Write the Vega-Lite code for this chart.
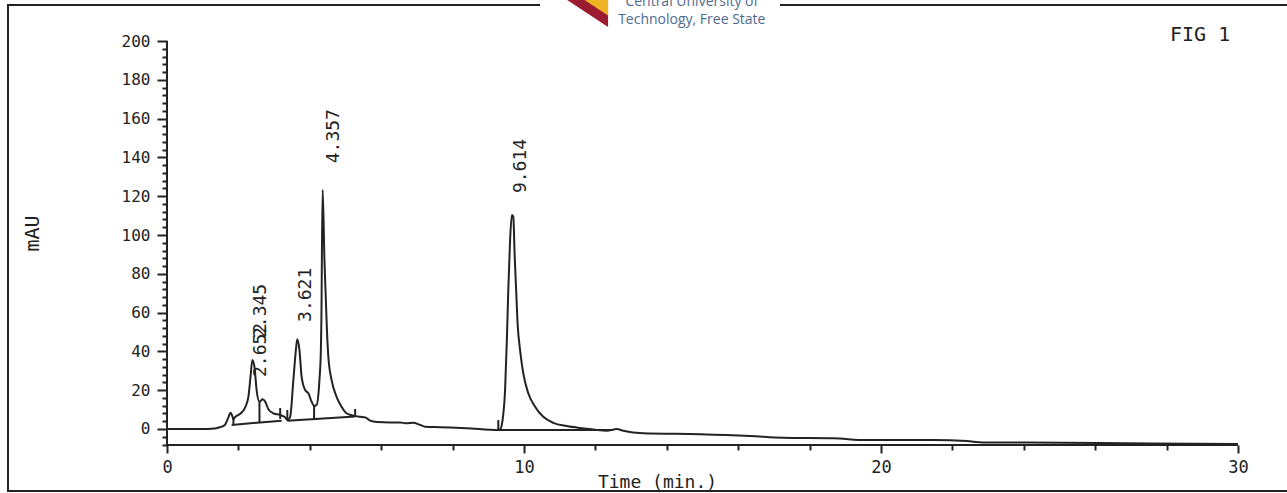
{
  "$schema": "https://vega.github.io/schema/vega-lite/v6.json",
  "autosize": {"type": "none"},
  "padding": {"left": 8, "top": 5, "right": -3, "bottom": 2},
  "width": 1282,
  "height": 486,
  "background": "white",
  "config": {
    "view": {"stroke": "#222", "strokeWidth": 2},
    "font": "DejaVu Sans Mono",
    "axis": {"labelOverlap": false, "labelBound": false, "labelFlush": false}
  },
  "datasets": {
    "signal": [
      {"t": 0, "mAU": 0}, {"t": 0.92, "mAU": 0}, {"t": 1.34, "mAU": 0.3}, {"t": 1.48, "mAU": 0.9},
      {"t": 1.62, "mAU": 2.1}, {"t": 1.72, "mAU": 6.0}, {"t": 1.78, "mAU": 8.4}, {"t": 1.83, "mAU": 6.7},
      {"t": 1.86, "mAU": 5.0}, {"t": 1.9, "mAU": 6.0}, {"t": 2.04, "mAU": 7.7}, {"t": 2.18, "mAU": 10.8},
      {"t": 2.28, "mAU": 16.6}, {"t": 2.34, "mAU": 27.0}, {"t": 2.39, "mAU": 35.6}, {"t": 2.45, "mAU": 32.1},
      {"t": 2.51, "mAU": 20.1}, {"t": 2.59, "mAU": 14.1}, {"t": 2.68, "mAU": 15.3}, {"t": 2.75, "mAU": 14.1},
      {"t": 2.84, "mAU": 10.2}, {"t": 2.98, "mAU": 8.1}, {"t": 3.17, "mAU": 7.2}, {"t": 3.31, "mAU": 6.0},
      {"t": 3.37, "mAU": 4.6}, {"t": 3.45, "mAU": 6.3}, {"t": 3.54, "mAU": 25.3}, {"t": 3.61, "mAU": 40.7},
      {"t": 3.65, "mAU": 46.2}, {"t": 3.71, "mAU": 40.7}, {"t": 3.77, "mAU": 27.0}, {"t": 3.87, "mAU": 20.1},
      {"t": 3.96, "mAU": 18.4}, {"t": 4.05, "mAU": 14.1}, {"t": 4.12, "mAU": 11.9}, {"t": 4.19, "mAU": 12.4},
      {"t": 4.27, "mAU": 25.3}, {"t": 4.31, "mAU": 40.7}, {"t": 4.33, "mAU": 66.5}, {"t": 4.34, "mAU": 92.3},
      {"t": 4.36, "mAU": 123.2}, {"t": 4.41, "mAU": 87.1}, {"t": 4.45, "mAU": 66.5}, {"t": 4.48, "mAU": 51.0},
      {"t": 4.52, "mAU": 37.1}, {"t": 4.61, "mAU": 25.3}, {"t": 4.75, "mAU": 16.6}, {"t": 4.89, "mAU": 11.5},
      {"t": 5.03, "mAU": 8.1}, {"t": 5.22, "mAU": 6.9}, {"t": 5.41, "mAU": 6.3}, {"t": 5.55, "mAU": 6.0},
      {"t": 5.69, "mAU": 4.3}, {"t": 5.88, "mAU": 3.6}, {"t": 6.25, "mAU": 3.4}, {"t": 6.53, "mAU": 3.4},
      {"t": 6.71, "mAU": 2.9}, {"t": 6.9, "mAU": 3.2}, {"t": 7.09, "mAU": 2.1}, {"t": 7.23, "mAU": 1.2},
      {"t": 7.65, "mAU": 0.9}, {"t": 8.39, "mAU": 0.4}, {"t": 9.28, "mAU": -0.5}, {"t": 9.33, "mAU": -0.2},
      {"t": 9.4, "mAU": 4.6}, {"t": 9.47, "mAU": 20.1}, {"t": 9.52, "mAU": 45.9}, {"t": 9.56, "mAU": 71.6},
      {"t": 9.61, "mAU": 97.4}, {"t": 9.66, "mAU": 110.3}, {"t": 9.7, "mAU": 109.4}, {"t": 9.74, "mAU": 88.8},
      {"t": 9.78, "mAU": 71.6}, {"t": 9.82, "mAU": 54.5}, {"t": 9.89, "mAU": 40.7}, {"t": 9.98, "mAU": 28.7},
      {"t": 10.12, "mAU": 18.4}, {"t": 10.31, "mAU": 11.5}, {"t": 10.54, "mAU": 6.3}, {"t": 10.82, "mAU": 3.2},
      {"t": 11.2, "mAU": 1.5}, {"t": 11.57, "mAU": 0.5}, {"t": 11.94, "mAU": -0.2}, {"t": 12.32, "mAU": -0.9},
      {"t": 12.6, "mAU": 0}, {"t": 12.78, "mAU": -0.9}, {"t": 13.34, "mAU": -2.2}, {"t": 14.93, "mAU": -2.7},
      {"t": 16.33, "mAU": -3.6}, {"t": 17.26, "mAU": -4.5}, {"t": 18.66, "mAU": -4.8}, {"t": 19.6, "mAU": -5.7},
      {"t": 21.46, "mAU": -5.7}, {"t": 22.4, "mAU": -6.2}, {"t": 22.87, "mAU": -6.9}, {"t": 23.33, "mAU": -6.9},
      {"t": 26.13, "mAU": -7.2}, {"t": 27.54, "mAU": -7.5}, {"t": 30.0, "mAU": -7.7}
    ],
    "segments": [
      {"t": 0, "mAU": -8.25, "t2": 30, "mAU2": -8.25},
      {"t": 0, "mAU": -8.25, "t2": 0, "mAU2": 200},
      {"t": 1.81, "mAU": 2.1, "t2": 3.21, "mAU2": 4.3},
      {"t": 3.37, "mAU": 4.3, "t2": 5.27, "mAU2": 6.5},
      {"t": 9.28, "mAU": -0.5, "t2": 12.5, "mAU2": -0.5},
      {"t": 2.59, "mAU": 3.2, "t2": 2.59, "mAU2": 14.1},
      {"t": 4.12, "mAU": 5.0, "t2": 4.12, "mAU2": 11.9},
      {"t": 0, "mAU": 0, "t2": 0, "mAU2": 5.7},
      {"t": 1.86, "mAU": 2.1, "t2": 1.86, "mAU2": 6.2},
      {"t": 3.17, "mAU": 5.2, "t2": 3.17, "mAU2": 10.8},
      {"t": 3.37, "mAU": 4.6, "t2": 3.37, "mAU2": 9.8},
      {"t": 5.27, "mAU": 6.2, "t2": 5.27, "mAU2": 10.3},
      {"t": 9.28, "mAU": -0.5, "t2": 9.28, "mAU2": 4.6}
    ],
    "peaks": [
      {"label": "2.652", "t": 2.38, "mAU": 26.8},
      {"label": "2.345", "t": 2.38, "mAU": 46.9},
      {"label": "3.621", "t": 3.64, "mAU": 55.2},
      {"label": "4.357", "t": 4.43, "mAU": 137},
      {"label": "9.614", "t": 9.66, "mAU": 121.6}
    ],
    "fig": [{"label": "FIG 1", "t": 28.94, "mAU": 203}],
    "logo": [
      {"label": "Central University of", "t": 14.7, "mAU": 220.2},
      {"label": "Technology, Free State", "t": 14.7, "mAU": 211}
    ],
    "logobox": [{"t": 10.45, "t2": 17.17, "mAU": 203.6, "mAU2": 222}],
    "logoicon": [{"t": 11.78, "mAU": 214.2}]
  },
  "encoding": {
    "x": {
      "field": "t", "type": "quantitative",
      "scale": {"domain": [-4.454, 31.457], "nice": false, "zero": false},
      "axis": {
        "orient": "bottom", "offset": -46, "domain": false, "grid": false,
        "values": [0, 2, 4, 6, 8, 10, 12, 14, 16, 18, 20, 22, 24, 26, 28, 30],
        "labelExpr": "datum.value % 10 === 0 ? datum.label : ''",
        "tickSize": {"condition": {"test": "datum.value % 10 === 0", "value": 8}, "value": 5},
        "tickColor": "#222", "tickWidth": 2,
        "labelFont": "DejaVu Sans Mono", "labelFontSize": 17, "labelColor": "#222",
        "labelPadding": 6, "labelFlush": false, "labelOverlap": false,
        "title": "Time (min.)", "titleFont": "DejaVu Sans Mono", "titleFontSize": 18,
        "titleFontWeight": "normal", "titleColor": "#222",
        "titleX": 649, "titleY": 37, "titleBaseline": "middle", "titleAlign": "center"
      }
    },
    "y": {
      "field": "mAU", "type": "quantitative",
      "scale": {"domain": [-31.96, 218.56], "nice": false, "zero": false},
      "axis": {
        "orient": "left", "offset": -159, "domain": false, "grid": false,
        "values": [-8, -4, 0, 4, 8, 12, 16, 20, 24, 28, 32, 36, 40, 44, 48, 52, 56, 60, 64, 68, 72, 76, 80, 84, 88, 92, 96, 100, 104, 108, 112, 116, 120, 124, 128, 132, 136, 140, 144, 148, 152, 156, 160, 164, 168, 172, 176, 180, 184, 188, 192, 196, 200],
        "labelExpr": "datum.value % 20 === 0 && datum.value >= 0 ? datum.label : ''",
        "tickSize": {"condition": {"test": "datum.value % 20 === 0 && datum.value >= 0", "value": 10}, "value": 5},
        "tickColor": "#222", "tickWidth": 2,
        "labelFont": "DejaVu Sans Mono", "labelFontSize": 16, "labelColor": "#222",
        "labelPadding": 7, "labelFlush": false, "labelOverlap": false,
        "title": "mAU", "titleFont": "DejaVu Sans Mono", "titleFontSize": 20,
        "titleFontWeight": "normal", "titleColor": "#222", "titleAngle": 270,
        "titleX": -135, "titleY": 228, "titleBaseline": "middle", "titleAlign": "center"
      }
    }
  },
  "layer": [
    {
      "data": {"name": "logobox"},
      "mark": {"type": "rect", "color": "white"},
      "encoding": {"x2": {"field": "t2"}, "y2": {"field": "mAU2"}}
    },
    {
      "data": {"name": "logoicon"},
      "mark": {"type": "point", "filled": true, "color": "#9b1b30", "opacity": 1, "size": 1681, "shape": "M-1,-0.66 L1,-0.66 L1,0.66 Z"}
    },
    {
      "data": {"name": "logoicon"},
      "mark": {"type": "point", "filled": true, "color": "#f0b323", "opacity": 1, "size": 1681, "shape": "M-0.15,-0.66 L1,-0.66 L1,0.1 Z"}
    },
    {
      "data": {"name": "signal"},
      "mark": {"type": "line", "color": "#222", "strokeWidth": 2, "interpolate": "monotone"}
    },
    {
      "data": {"name": "segments"},
      "mark": {"type": "rule", "color": "#222", "strokeWidth": 2},
      "encoding": {
        "x2": {"field": "t2"},
        "y2": {"field": "mAU2"}
      }
    },
    {
      "data": {"name": "peaks"},
      "mark": {"type": "text", "angle": 270, "align": "left", "baseline": "top", "font": "DejaVu Sans Mono", "fontSize": 18, "color": "#222"},
      "encoding": {"text": {"field": "label"}}
    },
    {
      "data": {"name": "fig"},
      "mark": {"type": "text", "align": "center", "baseline": "middle", "font": "DejaVu Sans Mono", "fontSize": 20, "color": "#222"},
      "encoding": {"text": {"field": "label"}}
    },
    {
      "data": {"name": "logo"},
      "mark": {"type": "text", "align": "center", "baseline": "middle", "font": "Open Sans", "fontSize": 14, "color": "#4f6a8f"},
      "encoding": {"text": {"field": "label"}}
    }
  ]
}
